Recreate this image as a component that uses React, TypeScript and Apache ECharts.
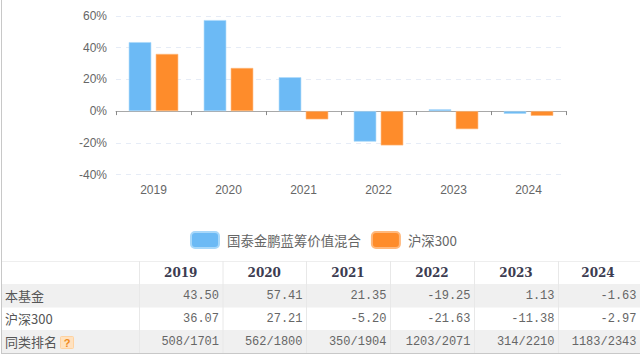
import React, { useEffect, useRef } from "react";
import * as echarts from "echarts";

const years = ["2019", "2020", "2021", "2022", "2023", "2024"];
const fundName = "国泰金鹏蓝筹价值混合";
const indexName = "沪深300";
const fundValues = [43.5, 57.41, 21.35, -19.25, 1.13, -1.63];
const indexValues = [36.07, 27.21, -5.2, -21.63, -11.38, -2.97];
const fundCells = ["43.50", "57.41", "21.35", "-19.25", "1.13", "-1.63"];
const indexCells = ["36.07", "27.21", "-5.20", "-21.63", "-11.38", "-2.97"];
const rankCells = ["508/1701", "562/1800", "350/1904", "1203/2071", "314/2210", "1183/2343"];
const rowLabels = ["本基金", "沪深300", "同类排名"];

const colEdges = [139, 222.5, 306, 390, 474, 558, 640];
const rowEdges = [261, 284, 307.5, 330, 353];
const CJK = '"Noto Sans CJK SC", sans-serif';
const MONO = '"Liberation Mono", monospace';

function tableGraphics() {
  const els: any[] = [];
  els.push({ type: "rect", silent: true, shape: { x: 2, y: rowEdges[1], width: 638, height: rowEdges[2] - rowEdges[1] }, style: { fill: "#f0f0f0" } });
  els.push({ type: "rect", silent: true, shape: { x: 2, y: rowEdges[3], width: 638, height: rowEdges[4] - rowEdges[3] }, style: { fill: "#f0f0f0" } });
  els.push({ type: "line", silent: true, shape: { x1: 1.5, y1: 0, x2: 1.5, y2: 354 }, style: { stroke: "#c8c8c8", lineWidth: 1 } });
  els.push({ type: "line", silent: true, shape: { x1: 2, y1: 261.5, x2: 640, y2: 261.5 }, style: { stroke: "#eeeeee", lineWidth: 1 } });
  els.push({ type: "line", silent: true, shape: { x1: 2, y1: 353.5, x2: 640, y2: 353.5 }, style: { stroke: "#c8c8c8", lineWidth: 1 } });
  colEdges.slice(0, 6).forEach((x) => {
    els.push({ type: "line", silent: true, shape: { x1: x + 0.5, y1: 261, x2: x + 0.5, y2: 353 }, style: { stroke: "#e8e8e8", lineWidth: 1 } });
  });
  years.forEach((y, i) => {
    els.push({
      type: "text", silent: true, x: (colEdges[i] + colEdges[i + 1]) / 2 - (i === 5 ? 1 : 0), y: 273,
      style: { text: y, fill: "#3c3c50", font: 'bold 12px "DejaVu Serif", serif', textAlign: "center", textVerticalAlign: "middle" },
    });
  });
  rowLabels.forEach((t, r) => {
    els.push({
      type: "text", silent: true, x: 5, y: (rowEdges[r + 1] + rowEdges[r + 2]) / 2,
      style: { text: t, fill: "#555555", font: `13px ${CJK}`, textAlign: "left", textVerticalAlign: "middle" },
    });
  });
  [fundCells, indexCells, rankCells].forEach((cells, r) => {
    cells.forEach((t, i) => {
      els.push({
        type: "text", silent: true, x: colEdges[i + 1] - 3.5, y: (rowEdges[r + 1] + rowEdges[r + 2]) / 2,
        style: { text: t, fill: "#666666", font: `12px ${MONO}`, textAlign: "right", textVerticalAlign: "middle" },
      });
    });
  });
  els.push({ type: "rect", silent: true, shape: { x: 60.5, y: 336.5, width: 13, height: 12, r: 1 }, style: { fill: "#ffe2c0", stroke: "#ffd2a0", lineWidth: 1 } });
  els.push({
    type: "text", silent: true, x: 67, y: 343,
    style: { text: "?", fill: "#f08a1d", font: 'bold 11px "Liberation Sans", sans-serif', textAlign: "center", textVerticalAlign: "middle" },
  });
  return els;
}

export default function App() {
  const ref = useRef<HTMLDivElement>(null);
  useEffect(() => {
    document.body.style.margin = "0";
    const chart = echarts.init(ref.current!, undefined, { renderer: "svg" });
    chart.setOption({
      animation: false,
      backgroundColor: "#ffffff",
      grid: { left: 116, right: 74, top: 16, height: 158.5, containLabel: false },
      legend: {
        left: 185, top: 226, itemWidth: 28, itemHeight: 16, itemGap: 10,
        icon: "roundRect",
        textStyle: { color: "#666666", fontSize: 13.4, fontFamily: CJK, padding: [0, 0, 0, 3] },
        data: [fundName, indexName],
      },
      xAxis: {
        type: "category",
        data: years,
        position: "bottom",
        axisLine: { onZero: true, lineStyle: { color: "#a8a8a8", width: 1 } },
        axisTick: { show: true, alignWithLabel: false, length: 4, inside: false, lineStyle: { color: "#888888" } },
        axisLabel: { show: false },
        splitLine: { show: false },
      },
      yAxis: {
        type: "value",
        min: -40, max: 60, interval: 20,
        axisLine: { show: false },
        axisTick: { show: false },
        axisLabel: { formatter: "{value}%", color: "#666666", fontSize: 12, fontFamily: '"Liberation Sans Narrow", "Liberation Sans", sans-serif', margin: 9 },
        splitLine: { lineStyle: { color: "#e6ecf6", type: [5, 5], width: 1 } },
      },
      series: [
        {
          name: fundName, type: "bar", data: fundValues, barWidth: 22.5, barGap: "20%",
          itemStyle: { color: "#6cbaf5", borderColor: "#a8d8fa", borderWidth: 0.6 },
        },
        {
          name: indexName, type: "bar", data: indexValues, barWidth: 22.5,
          itemStyle: { color: "#fe8c2b", borderColor: "#ffb87c", borderWidth: 0.6 },
        },
      ],
      graphic: [
        ...tableGraphics(),
        ...years.map((y, i) => ({
          type: "text", silent: true, x: 153.5 + i * 75, y: 190,
          style: { text: y, fill: "#666666", font: '12px "Liberation Sans", sans-serif', textAlign: "center", textVerticalAlign: "middle" },
        })),
      ],
    });
    return () => chart.dispose();
  }, []);
  return <div ref={ref} style={{ width: 640, height: 354 }} />;
}
